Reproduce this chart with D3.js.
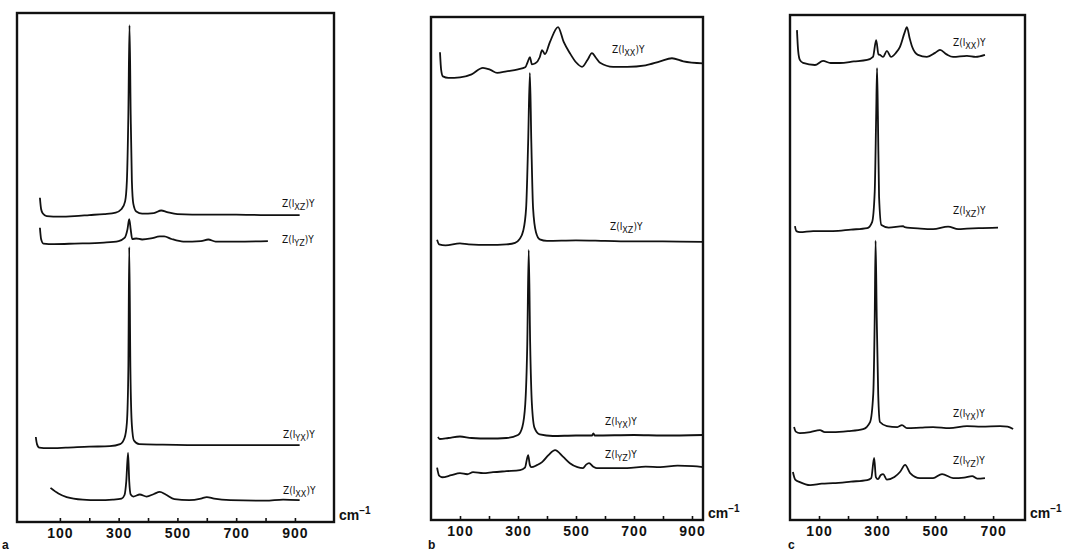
<!DOCTYPE html>
<html>
<head>
<meta charset="utf-8">
<script src="https://cdn.jsdelivr.net/npm/d3@7"></script>
<style>
  body { margin: 0; background: #fff; }
  svg { display: block; }
</style>
</head>
<body>
<div id="frame"></div>
<script>
// spectra: [wavenumber cm-1, relative height 0..100 within the panel]
const aXZ = [[32,63.7],[36,61.5],[42,60.6],[55,60.1],[100,60.0],[150,60.1],[200,60.3],[250,60.5],[290,60.8],[310,61.5],[322,63],[328,67],[333,80],[337,97.6],[341,80],[345,67],[350,62.5],[360,61],[380,60.6],[420,60.7],[445,61.2],[465,60.9],[500,60.5],[600,60.4],[700,60.4],[800,60.3],[916,60.3]];
const aYZ = [[32,57.8],[36,55.6],[44,54.7],[80,54.6],[150,54.7],[250,54.9],[300,55.2],[320,55.8],[330,57.5],[336,59.5],[341,57.5],[346,55.6],[360,55.7],[380,55.5],[410,55.7],[440,56.1],[455,56.1],[480,55.6],[520,55.1],[580,55.2],[605,55.5],[630,55.1],[700,55.1],[808,55.2]];
const aYX = [[18,16.7],[22,15.3],[30,14.6],[60,14.5],[120,14.6],[200,14.8],[270,14.9],[305,15.3],[320,16.5],[328,19.5],[333,30],[336,54],[340,30],[345,19],[352,16],[370,15.3],[450,15.2],[600,15.1],[750,15.1],[916,15.1]];
const aXX = [[68,6.7],[95,5.6],[123,4.9],[178,4.4],[230,4.3],[280,4.4],[310,4.6],[320,5.3],[326,8],[332,13.6],[336,8],[341,5.4],[350,5.0],[372,5.4],[395,5.0],[420,5.5],[440,5.9],[460,5.4],[490,4.5],[540,4.3],[580,4.6],[600,4.9],[625,4.6],[680,4.3],[800,4.2],[860,4.4],[916,4.3]];

const bXX = [[31,93.0],[35,89.5],[41,88.2],[60,87.9],[100,88.0],[140,88.6],[179,89.9],[205,89.5],[228,88.9],[260,89.2],[300,89.6],[325,90.0],[333,91],[341,92.0],[348,90.6],[360,90.8],[375,92],[383,93.4],[393,92.6],[410,95],[438,98.0],[458,95],[479,92.8],[500,91],[521,90.1],[540,91.5],[555,92.8],[570,91.8],[583,90.9],[628,90.1],[676,90.1],[740,90.4],[790,91.2],[831,91.8],[870,91.2],[938,90.8]];
const bXZ = [[21,55.7],[28,54.8],[50,54.6],[100,55.0],[130,54.8],[200,54.7],[260,54.8],[290,55.1],[305,55.8],[318,57.5],[328,62],[335,75],[341,88.9],[346,75],[352,62],[362,57.2],[375,55.8],[400,55.5],[500,55.6],[600,55.5],[700,55.4],[800,55.4],[938,55.3]];
const bYX = [[24,16.5],[30,16.1],[60,16.3],[100,16.6],[140,16.3],[200,16.2],[260,16.3],[300,16.9],[315,18.5],[325,23],[332,35],[337,53.7],[342,35],[348,23],[357,18.3],[375,17.0],[420,16.7],[500,16.8],[555,16.8],[560,17.2],[565,16.8],[700,16.9],[800,16.8],[938,16.9]];
const bYZ = [[21,10.4],[28,8.8],[38,8.5],[70,8.9],[100,9.3],[125,9.1],[145,9.5],[180,9.3],[214,9.5],[260,9.7],[307,9.9],[324,10.4],[335,12.9],[341,10.9],[346,10.5],[365,10.9],[383,11.5],[405,12.9],[428,13.9],[455,12.6],[479,11.3],[505,10.5],[524,10.3],[535,11.0],[545,11.3],[560,10.6],[572,10.3],[676,10.3],[740,10.6],[790,10.5],[850,10.8],[903,10.7],[938,10.5]];

const cXX = [[24,97.0],[28,93],[34,91.1],[45,90.5],[86,90.1],[114,90.9],[140,90.5],[172,90.5],[220,90.8],[266,91.1],[286,91.7],[297,95.0],[305,92.2],[310,92.1],[321,91.7],[334,92.9],[348,91.7],[365,92.5],[379,93.7],[395,96.5],[403,97.6],[412,95.5],[421,93.7],[441,92.1],[472,91.7],[500,92.5],[517,93.1],[540,92.2],[562,91.7],[610,91.9],[640,91.7],[672,92.1]];
const cXZ = [[17,58.2],[22,57.2],[34,57.0],[80,57.2],[148,57.2],[210,57.5],[266,57.8],[283,59.0],[292,65],[297,80],[300,89.5],[303,80],[307,64],[315,58.4],[340,57.9],[390,58.2],[395,58.0],[450,57.7],[493,57.6],[545,58.1],[580,57.6],[610,57.7],[650,57.8],[717,57.9]];
const cYX = [[14,18.4],[20,17.5],[34,17.2],[70,17.4],[103,17.8],[120,17.4],[148,17.4],[200,17.6],[252,18.0],[276,19.4],[287,25],[292,40],[295,55.3],[299,40],[304,25],[310,19.4],[334,18.6],[370,18.4],[386,18.8],[403,18.2],[450,18.3],[493,18.4],[550,18.2],[610,18.6],[660,18.5],[724,18.6],[750,18.5],[769,18.0]];
const cYZ = [[10,9.5],[18,8.0],[34,7.5],[69,6.9],[110,7.2],[148,7.3],[210,7.6],[266,7.9],[280,8.3],[290,12.3],[296,8.5],[303,8.1],[313,8.9],[321,9.1],[334,8.0],[360,8.5],[379,9.5],[397,10.9],[414,9.3],[448,8.3],[493,8.3],[524,9.1],[562,8.3],[600,8.4],[628,8.7],[645,8.2],[672,8.3]];

const ticksA = [100,200,300,400,500,600,700,800,900];
const ticksB = [100,200,300,400,500,600,700,800,900];
const ticksC = [100,200,300,400,500,600,700];
const tickLabels = [100,300,500,700,900];

const W = 1065, H = 551;
const svg = d3.select('#frame').append('svg')
    .attr('width', W)
    .attr('height', H);

const labelFont = "'Liberation Sans Narrow','DejaVu Sans Condensed','Liberation Sans',sans-serif";
const boldFont = "'Liberation Sans',Arial,sans-serif";

const panels = [
  { letter: 'a', domain: [-46, 1033], left: 17, right: 334, top: 13, bottom: 522, ticks: ticksA,
    cmX: 339, letterX: 2,
    traces: [
      { data: aXZ, sub: 'XZ', lx: 282, ly: 207 },
      { data: aYZ, sub: 'YZ', lx: 282, ly: 243 },
      { data: aYX, sub: 'YX', lx: 283, ly: 438 },
      { data: aXX, sub: 'XX', lx: 283, ly: 494 }
    ] },
  { letter: 'b', domain: [0, 938], left: 431, right: 703, top: 17, bottom: 520, ticks: ticksB,
    cmX: 708, letterX: 428,
    traces: [
      { data: bXX, sub: 'XX', lx: 612, ly: 53 },
      { data: bXZ, sub: 'XZ', lx: 610, ly: 230 },
      { data: bYX, sub: 'YX', lx: 605, ly: 425 },
      { data: bYZ, sub: 'YZ', lx: 605, ly: 458 }
    ] },
  { letter: 'c', domain: [0, 810], left: 790, right: 1025, top: 15, bottom: 520, ticks: ticksC,
    cmX: 1030, letterX: 788,
    traces: [
      { data: cXX, sub: 'XX', lx: 953, ly: 46 },
      { data: cXZ, sub: 'XZ', lx: 953, ly: 214 },
      { data: cYX, sub: 'YX', lx: 953, ly: 417 },
      { data: cYZ, sub: 'YZ', lx: 953, ly: 464 }
    ] }
];

panels.forEach(p => {
  const x = d3.scaleLinear().domain(p.domain).range([p.left, p.right]);
  const y = d3.scaleLinear().domain([0, 100]).range([p.bottom, p.top]);
  const g = svg.append('g');

  // frame
  g.append('rect')
      .attr('x', p.left).attr('y', p.top)
      .attr('width', p.right - p.left).attr('height', p.bottom - p.top)
      .attr('fill', 'none').attr('stroke', '#111').attr('stroke-width', 2.4);

  // bottom axis, ticks pointing in
  const axis = d3.axisBottom(x)
      .tickValues(p.ticks)
      .tickSizeInner(-4)
      .tickSizeOuter(0)
      .tickPadding(6)
      .tickFormat(d => tickLabels.includes(d) ? d : '');
  const ag = g.append('g')
      .attr('transform', `translate(0,${p.bottom})`)
      .call(axis);
  ag.select('.domain').remove();
  ag.selectAll('.tick line').attr('stroke', '#111').attr('stroke-width', 1.6);
  ag.selectAll('.tick text')
      .attr('fill', '#111')
      .style('font-family', boldFont)
      .style('font-weight', 'bold')
      .style('font-size', '14px')
      .style('letter-spacing', '1px');

  // spectra
  const line = d3.line()
      .x(d => x(d[0]))
      .y(d => y(d[1]))
      .curve(d3.curveMonotoneX);

  p.traces.forEach(t => {
    g.append('path')
        .datum(t.data)
        .attr('d', line)
        .attr('fill', 'none')
        .attr('stroke', '#111')
        .attr('stroke-width', 1.8)
        .attr('stroke-linejoin', 'round');

    const txt = g.append('text')
        .attr('x', t.lx).attr('y', t.ly)
        .attr('fill', '#111')
        .style('font-family', labelFont)
        .style('font-size', '10px');
    txt.append('tspan').text('Z(I');
    txt.append('tspan').attr('dy', 3).style('font-size', '9px').text(t.sub);
    txt.append('tspan').attr('dy', -3).text(')Y');
  });

  // unit
  const cm = g.append('text')
      .attr('x', p.cmX).attr('y', p.bottom - 2)
      .attr('fill', '#111')
      .style('font-family', boldFont)
      .style('font-weight', 'bold')
      .style('font-size', '14px');
  cm.append('tspan').text('cm');
  cm.append('tspan').attr('dy', -6).style('font-size', '10px').text('−1');

  // panel letter
  g.append('text')
      .attr('x', p.letterX).attr('y', 549)
      .attr('fill', '#111')
      .style('font-family', boldFont)
      .style('font-weight', 'bold')
      .style('font-size', '12px')
      .text(p.letter);
});
</script>
</body>
</html>
